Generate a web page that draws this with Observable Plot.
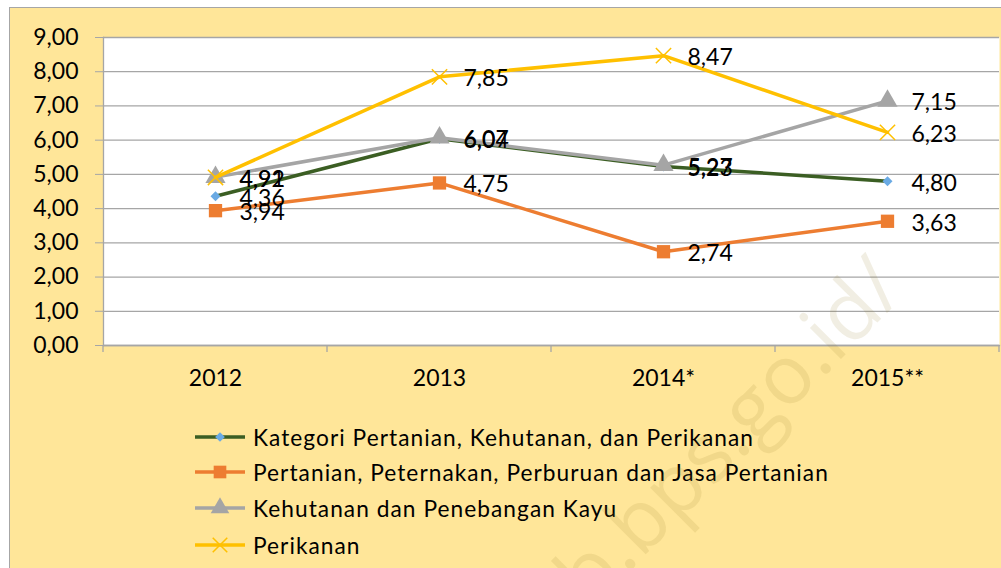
<!DOCTYPE html>
<html><head><meta charset="utf-8">
<script src="https://cdn.jsdelivr.net/npm/d3@7"></script>
<script src="https://cdn.jsdelivr.net/npm/@observablehq/plot@0.6"></script>
<style>
body{margin:0;background:#fff;width:1001px;height:568px;overflow:hidden;position:relative;font-family:Lato,sans-serif;}
#bg{position:absolute;left:9px;top:7px;width:1000px;height:570px;background:#FFE699;border:1px solid #A6A6A6;box-sizing:border-box;}
#chart{position:absolute;left:0;top:0;}
#chart svg{background:transparent;overflow:visible;}
#legend{position:absolute;left:0;top:0;width:1001px;height:568px;}
.row{position:absolute;left:195px;height:30px;display:flex;align-items:center;font-size:22.7px;letter-spacing:1.05px;color:#000;white-space:nowrap;}
.row svg{margin-right:8px;}
#wm{position:absolute;left:0;top:0;pointer-events:none;}
</style></head>
<body>
<div id="bg"></div>
<div id="chart"></div>
<div id="legend"></div>
<script>
const years = ["2012", "2013", "2014*", "2015**"];
const seriesNames = [
  "Kategori Pertanian, Kehutanan, dan Perikanan",
  "Pertanian, Peternakan, Perburuan dan Jasa Pertanian",
  "Kehutanan dan Penebangan Kayu",
  "Perikanan"
];
const kategori = [4.36, 6.04, 5.23, 4.80];
const pertanian = [3.94, 4.75, 2.74, 3.63];
const kehutanan = [4.92, 6.07, 5.27, 7.15];
const perikanan = [4.91, 7.85, 8.47, 6.23];
const yTicks = [0, 1, 2, 3, 4, 5, 6, 7, 8, 9];

const lineColors = ["#3B5E23", "#ED7D31", "#A5A5A5", "#FFC000"];
const markColors = ["#6AAAE4", "#ED7D31", "#A5A5A5", "#FFC000"];
const symbols = ["diamond2", "square", "triangle", "times"];
const symSizes = [4.5, 7.5, 7.5, 7];

const allValues = [kategori, pertanian, kehutanan, perikanan];
const data = [];
allValues.forEach((vals, s) => vals.forEach((v, i) => data.push({series: seriesNames[s], s, year: years[i], value: v})));

const fmt = d => d.toFixed(2).replace(".", ",");
const FS = 23;

const marks = [
  Plot.frame({fill: "white", stroke: null}),
  Plot.ruleY(yTicks, {stroke: "#A6A6A6", strokeWidth: 1.3}),
  Plot.axisY({ticks: yTicks, tickFormat: fmt, tickSize: 8, tickPadding: 17, fontSize: FS, stroke: "#A6A6A6", color: "#000", label: null}),
  Plot.axisX({tickSize: 0, tickPadding: 24, fontSize: FS, color: "#000", label: null}),
  Plot.frame({anchor: "left", stroke: "#A6A6A6", strokeWidth: 1.3}),
  Plot.frame({anchor: "bottom", stroke: "#A6A6A6", strokeWidth: 1.3})
];
seriesNames.forEach((name, s) => {
  const d = data.filter(r => r.s === s);
  marks.push(Plot.line(d, {x: "year", y: "value", stroke: lineColors[s], strokeWidth: 3.5}));
  marks.push(Plot.dot(d, {x: "year", y: "value", symbol: () => symbols[s], r: symSizes[s],
    fill: symbols[s] === "times" ? "none" : markColors[s], stroke: markColors[s], strokeWidth: symbols[s] === "times" ? 1.5 : 0}));
});
seriesNames.forEach((name, s) => {
  const d = data.filter(r => r.s === s);
  marks.push(Plot.text(d, {x: "year", y: "value", text: r => fmt(r.value), dx: 24, dy: 2, textAnchor: "start", fontSize: FS, fill: "#000"}));
});

const plot = Plot.plot({
  width: 1001,
  height: 400,
  marginTop: 37,
  marginBottom: 55,
  marginLeft: 103,
  marginRight: 2,
  style: {fontFamily: "Lato, sans-serif", background: "transparent"},
  x: {type: "point", domain: years, padding: 0.5},
  y: {domain: [0, 9]},
  marks
});
document.getElementById("chart").appendChild(plot);

// category boundary tick marks below the x axis
const xs = plot.scale("x");
const pos = years.map(y => xs.apply(y));
const step = pos[1] - pos[0];
const bounds = [pos[0] - step / 2, ...pos.map(p => p + step / 2)];
const y0 = plot.scale("y").apply(0);
d3.select(plot).append("g").selectAll("line").data(bounds).join("line")
  .attr("x1", d => d).attr("x2", d => d).attr("y1", y0).attr("y2", y0 + 7)
  .attr("stroke", "#A6A6A6").attr("stroke-width", 1.3);

// legend
const legend = document.getElementById("legend");
const rowY = [437, 472, 508, 545];
const symTypes = [d3.symbolDiamond2, d3.symbolSquare, d3.symbolTriangle, d3.symbolTimes];
const legSizes = [60, 160, 150, 140];
seriesNames.forEach((name, s) => {
  const row = document.createElement("div");
  row.className = "row";
  row.style.top = (rowY[s] - 15) + "px";
  let inner = `<line x1="0" x2="50" y1="15" y2="15" stroke="${lineColors[s]}" stroke-width="3.5"/>`;
  const path = d3.symbol(symTypes[s], legSizes[s])();
  if (s === 3) inner += `<path transform="translate(25,15)" d="${path}" fill="none" stroke="${markColors[s]}" stroke-width="1.5"/>`;
  else inner += `<path transform="translate(25,15)" d="${path}" fill="${markColors[s]}"/>`;
  row.innerHTML = `<svg width="50" height="30">${inner}</svg><span>${name}</span>`;
  legend.appendChild(row);
});

// watermark
const wm = d3.select("body").append("svg").attr("id", "wm").attr("width", 1001).attr("height", 568);
wm.append("text").attr("transform", "translate(590,610) rotate(-45)")
  .attr("font-family", "Open Sans, sans-serif").attr("font-size", 82)
  .attr("fill", "rgba(150,120,40,0.13)").text("b.bps.go.id/");
</script>
</body></html>
